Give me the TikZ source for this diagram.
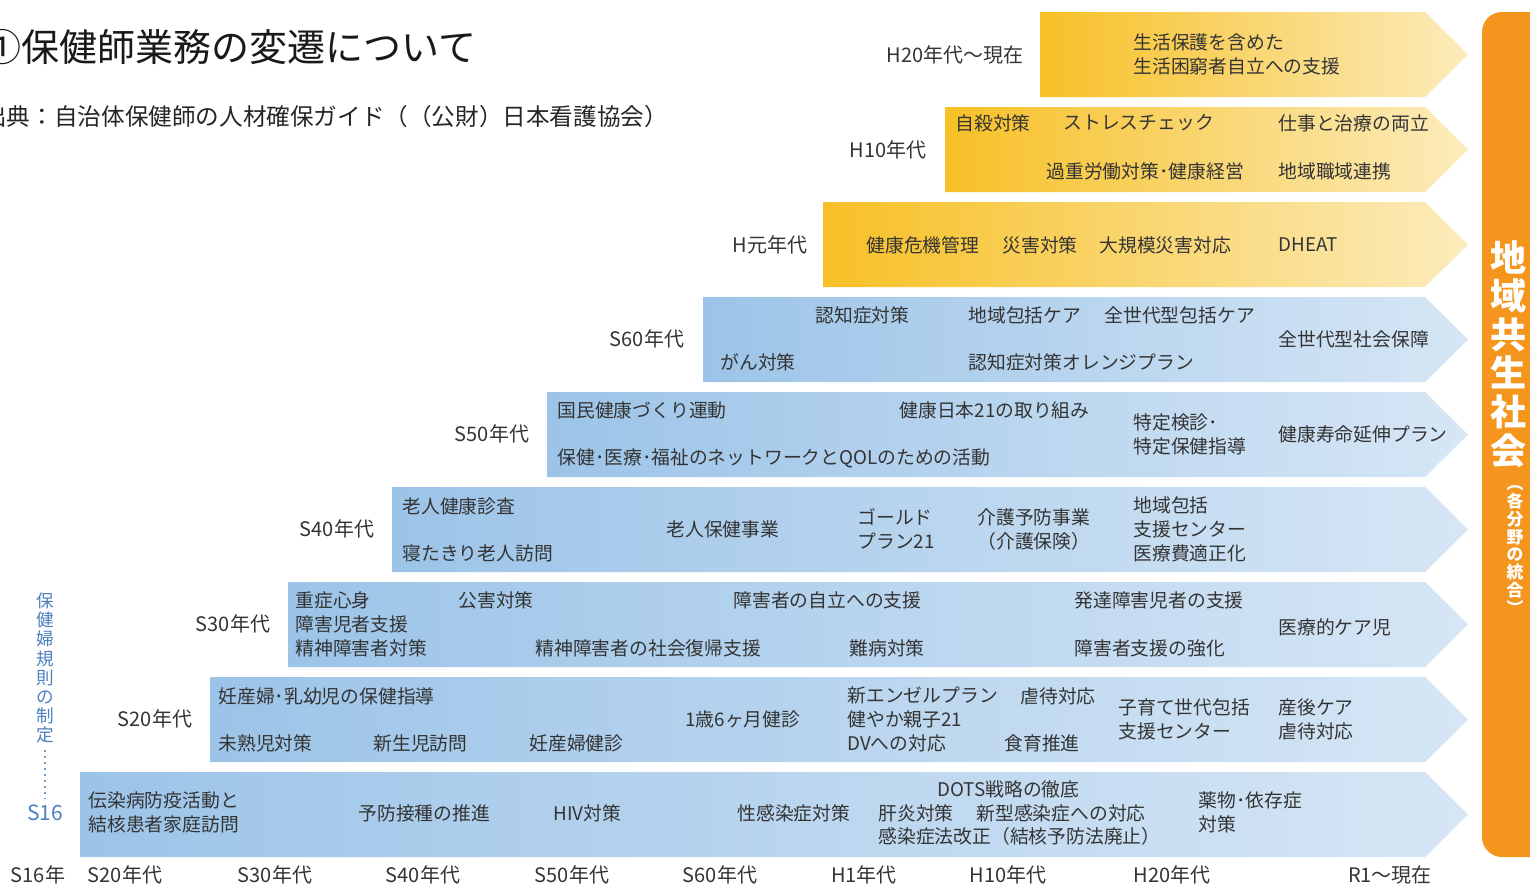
\documentclass[tikz,border=0pt]{standalone}
\usepackage{fontspec}
\setmainfont{Noto Sans CJK JP}
\definecolor{bandBlueL}{RGB}{156,196,232}
\definecolor{bandBlueR}{RGB}{214,230,245}
\definecolor{bandYelL}{RGB}{247,192,38}
\definecolor{bandYelR}{RGB}{252,236,188}
\definecolor{orangeBar}{RGB}{244,150,30}
\definecolor{txt}{RGB}{52,52,52}
\definecolor{leftBlue}{RGB}{78,128,190}
\newcommand{\bandshape}[4]{% #1 left x, #2 top y, #3 left colour, #4 right colour
  \shade[left color=#3, right color=#4]
    (#1,#2) -- (1425,#2) -- (1468,#2+42.5) -- (1425,#2+85) -- (#1,#2+85) -- cycle;}
\begin{document}
\begin{tikzpicture}[x=0.5pt,y=-0.5pt,
  item/.style={anchor=west, inner sep=0pt, font=\fontsize{9.4}{12}\selectfont, text=txt, align=left},
  period/.style={inner sep=0pt, font=\fontsize{10}{12}\selectfont, text=txt},
  axislab/.style={inner sep=0pt, font=\fontsize{10}{12}\selectfont, text=txt}]
\useasboundingbox (0,0) rectangle (1530,885);
\fill[white] (0,0) rectangle (1530,885);

% title
\node[anchor=west, inner sep=0pt, font=\fontsize{19}{22}\selectfont, text=black!90] (title) at (-17,47) {①保健師業務の変遷について};
\node[anchor=west, inner sep=0pt, font=\fontsize{11.8}{14}\selectfont, text=black!85] (source) at (-17,117) {出典：自治体保健師の人材確保ガイド（（公財）日本看護協会）};

% bands
\bandshape{1040}{12}{bandYelL}{bandYelR}
\bandshape{945}{107}{bandYelL}{bandYelR}
\bandshape{823}{202}{bandYelL}{bandYelR}
\bandshape{703}{297}{bandBlueL}{bandBlueR}
\bandshape{547}{392}{bandBlueL}{bandBlueR}
\bandshape{392}{487}{bandBlueL}{bandBlueR}
\bandshape{288}{582}{bandBlueL}{bandBlueR}
\bandshape{210}{677}{bandBlueL}{bandBlueR}
\bandshape{80}{772}{bandBlueL}{bandBlueR}

% orange bar
\fill[orangeBar, rounded corners=10pt] (1482,12) rectangle (1550,857);
\node[inner sep=0pt, text=white, align=center, font=\fontsize{18}{19.3}\selectfont\bfseries] (kyosei) at (1508,354) {地\\域\\共\\生\\社\\会};
\node[inner sep=0pt, text=white, align=center, font=\fontsize{8.4}{8.9}\selectfont\bfseries] (togo) at (1515,550) {︵\\各\\分\\野\\の\\統\\合\\︶};

% period labels
\node[period] (pH20) at (955,55) {H20年代〜現在};
\node[period] (pH10) at (888,150) {H10年代};
\node[period] (pH1) at (770,245) {H元年代};
\node[period] (pS60) at (647,339) {S60年代};
\node[period] (pS50) at (492,434) {S50年代};
\node[period] (pS40) at (337,529) {S40年代};
\node[period] (pS30) at (233,624) {S30年代};
\node[period] (pS20) at (155,719) {S20年代};

% band 1
\node[item] (b1a) at (1133,54) {生活保護を含めた\\生活困窮者自立への支援};
% band 2
\node[item] (b2a) at (955,123) {自殺対策};
\node[item] (b2b) at (1063,123) {ストレスチェック};
\node[item] (b2c) at (1278,123) {仕事と治療の両立};
\node[item] (b2d) at (1046,171) {過重労働対策･健康経営};
\node[item] (b2e) at (1278,171) {地域職域連携};
% band 3
\node[item] (b3a) at (866,245) {健康危機管理};
\node[item] (b3b) at (1002,245) {災害対策};
\node[item] (b3c) at (1099,245) {大規模災害対応};
\node[item] (b3d) at (1278,245) {DHEAT};
% band 4
\node[item] (b4a) at (815,315) {認知症対策};
\node[item] (b4b) at (968,315) {地域包括ケア};
\node[item] (b4c) at (1104,315) {全世代型包括ケア};
\node[item] (b4d) at (720,362) {がん対策};
\node[item] (b4e) at (968,362) {認知症対策オレンジプラン};
\node[item] (b4f) at (1278,339) {全世代型社会保障};
% band 5
\node[item] (b5a) at (557,410) {国民健康づくり運動};
\node[item] (b5b) at (899,410) {健康日本21の取り組み};
\node[item] (b5c) at (557,458) {保健･医療･福祉のネットワークとQOLのための活動};
\node[item] (b5d) at (1133,434) {特定検診･\\特定保健指導};
\node[item] (b5e) at (1278,434) {健康寿命延伸プラン};
% band 6
\node[item] (b6a) at (402,506) {老人健康診査};
\node[item] (b6b) at (402,553) {寝たきり老人訪問};
\node[item] (b6c) at (666,529) {老人保健事業};
\node[item] (b6d) at (857,529) {ゴールド\\プラン21};
\node[item] (b6e) at (977,529) {介護予防事業\\（介護保険）};
\node[item] (b6f) at (1133,529) {地域包括\\支援センター\\医療費適正化};
% band 7
\node[item] (b7a) at (295,624) {重症心身\\障害児者支援\\精神障害者対策};
\node[item] (b7b) at (458,600) {公害対策};
\node[item] (b7c) at (733,600) {障害者の自立への支援};
\node[item] (b7d) at (535,648) {精神障害者の社会復帰支援};
\node[item] (b7e) at (849,648) {難病対策};
\node[item] (b7f) at (1074,600) {発達障害児者の支援};
\node[item] (b7g) at (1074,648) {障害者支援の強化};
\node[item] (b7h) at (1278,627) {医療的ケア児};
% band 8
\node[item] (b8a) at (218,696) {妊産婦･乳幼児の保健指導};
\node[item] (b8b) at (218,743) {未熟児対策};
\node[item] (b8c) at (373,743) {新生児訪問};
\node[item] (b8d) at (529,743) {妊産婦健診};
\node[item] (b8e) at (685,719) {1歳6ヶ月健診};
\node[item] (b8f) at (847,719) {新エンゼルプラン\\健やか親子21\\DVへの対応};
\node[item] (b8g) at (1020,696) {虐待対応};
\node[item] (b8h) at (1004,743) {食育推進};
\node[item] (b8i) at (1118,719) {子育て世代包括\\支援センター};
\node[item] (b8j) at (1278,719) {産後ケア\\虐待対応};
% band 9
\node[item] (b9a) at (88,812) {伝染病防疫活動と\\結核患者家庭訪問};
\node[item] (b9b) at (358,813) {予防接種の推進};
\node[item] (b9c) at (553,813) {HIV対策};
\node[item] (b9d) at (737,813) {性感染症対策};
\node[item] (b9e) at (937,789) {DOTS戦略の徹底};
\node[item] (b9f) at (878,813) {肝炎対策};
\node[item] (b9g) at (976,813) {新型感染症への対応};
\node[item] (b9h) at (878,836) {感染症法改正（結核予防法廃止）};
\node[item] (b9i) at (1198,812) {薬物･依存症\\対策};

% left vertical note
\node[inner sep=0pt, text=leftBlue, align=center, font=\fontsize{8.8}{9.6}\selectfont] (kisoku) at (45,668) {保\\健\\婦\\規\\則\\の\\制\\定};
\node[inner sep=0pt, text=leftBlue, font=\fontsize{10.5}{12}\selectfont] (s16) at (45,813) {S16};
\draw[leftBlue!80, dotted, line width=1pt] ([yshift=-3pt]kisoku.south) -- ([yshift=3pt]s16.north);

% axis labels
\node[axislab] (a1) at (38,875) {S16年};
\node[axislab] (a2) at (125,875) {S20年代};
\node[axislab] (a3) at (275,875) {S30年代};
\node[axislab] (a4) at (423,875) {S40年代};
\node[axislab] (a5) at (572,875) {S50年代};
\node[axislab] (a6) at (720,875) {S60年代};
\node[axislab] (a7) at (864,875) {H1年代};
\node[axislab] (a8) at (1008,875) {H10年代};
\node[axislab] (a9) at (1172,875) {H20年代};
\node[axislab] (a10) at (1390,875) {R1〜現在};
\end{tikzpicture}
\end{document}
